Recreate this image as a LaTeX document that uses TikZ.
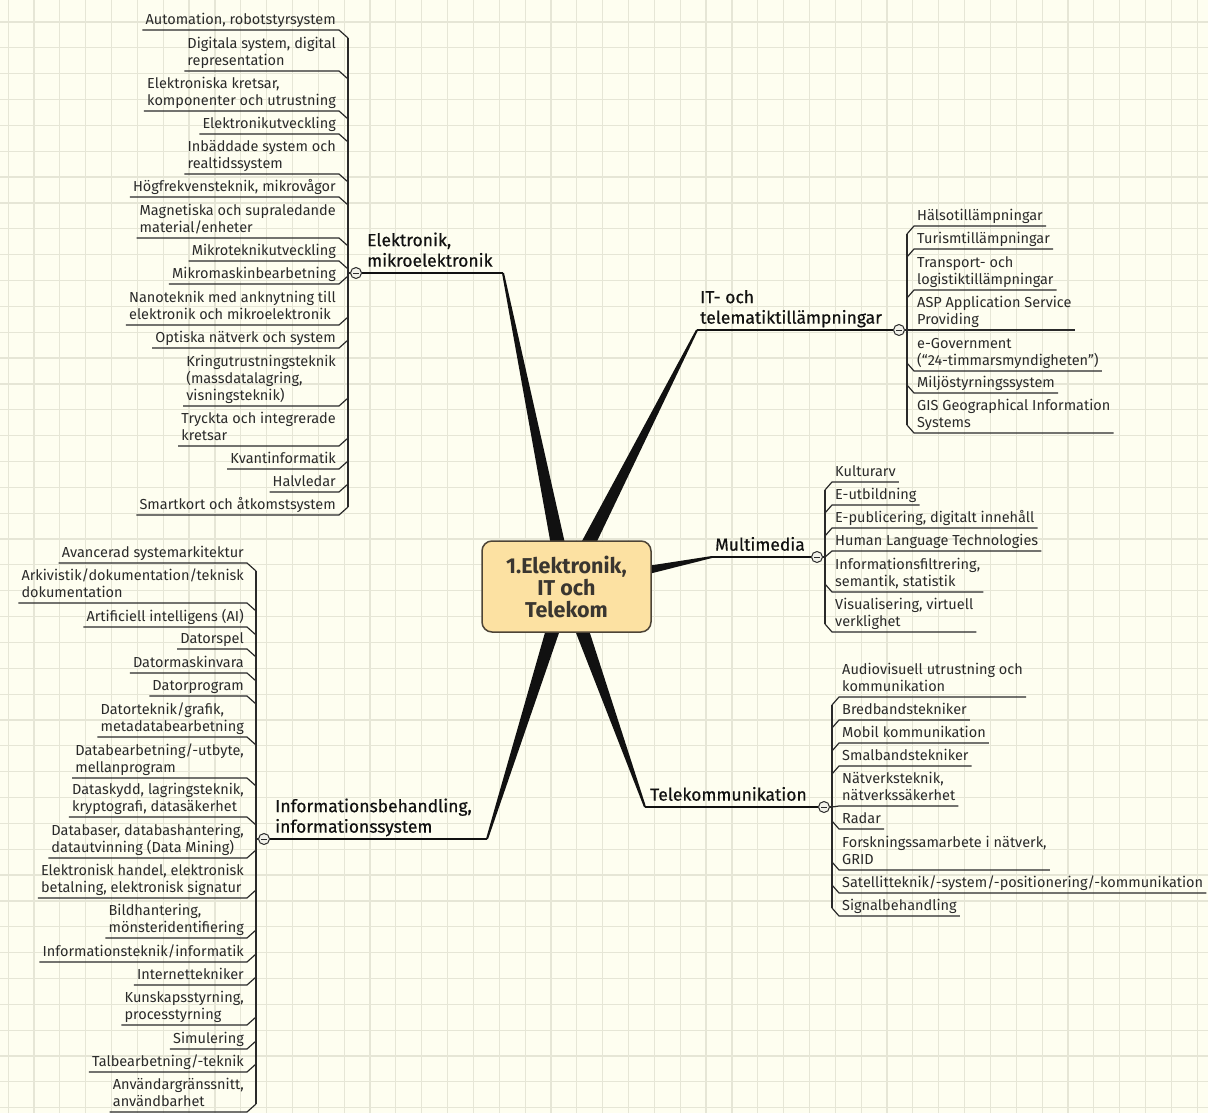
\documentclass[tikz,border=0pt]{standalone}
\usepackage{fontspec}
\setmainfont{Fira Sans}
\newfontfamily\topicfont[FakeBold=0.5]{Fira Sans}
\usetikzlibrary{calc}

\definecolor{paper}{HTML}{FEFEF0}
\definecolor{gridc}{HTML}{E6E6D6}
\definecolor{ink}{HTML}{2A2A2A}
\definecolor{deep}{HTML}{111111}
\definecolor{corefill}{HTML}{FCE1A2}
\definecolor{coreedge}{HTML}{4D4436}
\definecolor{coretext}{HTML}{3A3630}
\definecolor{knobfill}{HTML}{F2F2EA}

\tikzset{
  kid/.style={font=\fontsize{14.5}{17}\selectfont, text=ink, align=left,
    inner xsep=3pt, inner ysep=0.5pt, execute at end node=\strut},
  topic/.style={font=\topicfont\fontsize{17.5}{20.5}\selectfont, text=deep, align=left,
    inner xsep=3pt, inner ysep=0pt, execute at end node=\strut},
  core/.style={draw=coreedge, fill=corefill, line width=1.5pt, rounded corners=10pt,
    minimum width=169pt, minimum height=91pt, align=center, text=coretext,
    font=\fontsize{21.5}{22}\selectfont\bfseries},
  twig/.style={draw=ink, line width=1.2pt, line join=round},
  stem/.style={draw=deep, line width=1.5pt},
  knob/.style={circle, draw=ink, fill=knobfill, line width=1pt, minimum size=11pt,
    inner sep=0pt, path picture={
      \draw[ink, line width=1pt] ([xshift=-2.6pt]path picture bounding box.center)
        -- ([xshift=2.6pt]path picture bounding box.center);}},
}

% child on the left of its bracket: name, bracket x, parent y, underline y, text
\newcommand\lkid[5]{%
  \node[kid, anchor=south east] (#1) at (#2-9,#4) {#5};
  \draw[twig] (#1.south west) -- (#1.south east) -- (#2,{#4+min(8,max(-8,#3-#4))});
}
% child on the right of its bracket
\newcommand\rkid[5]{%
  \node[kid, anchor=south west] (#1) at (#2+7,#4) {#5};
  \draw[twig] (#2,{#4+min(8,max(-8,#3-#4))}) -- (#1.south west) -- (#1.south east);
}
% tapered main branch from the centre to a topic end point
\newcommand\limb[1]{%
  \fill[deep] ($(ctr)!8pt!90:(#1)$) -- ($(#1)!1pt!-90:(ctr)$)
    -- ($(#1)!1pt!90:(ctr)$) -- ($(ctr)!8pt!-90:(#1)$) -- cycle;
}

\begin{document}
\begin{tikzpicture}[x=1pt, y=-1pt]
\useasboundingbox (0,0) rectangle (1208,1113);
\fill[paper] (0,0) rectangle (1208,1113);

% grid paper
\foreach \i in {0,...,46} {\draw[gridc, line width=1.2pt] (8.1+\i*25.85,0) -- ++(0,1113);}
\foreach \j in {0,...,42} {\draw[gridc, line width=1.2pt] (0,22+\j*25.85) -- ++(1208,0);}

% centre and branch ends
\coordinate (ctr) at (566.5,586.5);
\coordinate (Eend) at (503,273);
\coordinate (Iend) at (697,330);
\coordinate (Mend) at (712,557);
\coordinate (Tend) at (645,807);
\coordinate (Nend) at (487,839);

\limb{Eend}
\limb{Iend}
\limb{Mend}
\limb{Tend}
\limb{Nend}

\node[core] (core) at (ctr) {1.Elektronik,\\IT och\\Telekom};

% ---------- Elektronik, mikroelektronik ----------
\node[topic, anchor=south west] (E) at (364,273) {Elektronik,\\mikroelektronik};
\lkid{e1}{348}{273}{30}{Automation, robotstyrsystem}
\lkid{e2}{348}{273}{71}{Digitala system, digital\\representation}
\lkid{e3}{348}{273}{111}{Elektroniska kretsar,\\komponenter och utrustning}
\lkid{e4}{348}{273}{134}{Elektronikutveckling}
\lkid{e5}{348}{273}{174}{Inbäddade system och\\realtidssystem}
\lkid{e6}{348}{273}{197}{Högfrekvensteknik, mikrovågor}
\lkid{e7}{348}{273}{238}{Magnetiska och supraledande\\material/enheter}
\lkid{e8}{348}{273}{261}{Mikroteknikutveckling}
\lkid{e9}{348}{273}{284}{Mikromaskinbearbetning}
\lkid{e10}{348}{273}{325}{Nanoteknik med anknytning till\\elektronik och mikroelektronik}
\lkid{e11}{348}{273}{348}{Optiska nätverk och system}
\lkid{e12}{348}{273}{406}{Kringutrustningsteknik\\(massdatalagring,\\visningsteknik)}
\lkid{e13}{348}{273}{446}{Tryckta och integrerade\\kretsar}
\lkid{e14}{348}{273}{469}{Kvantinformatik}
\lkid{e15}{348}{273}{492}{Halvledar}
\lkid{e16}{348}{273}{515}{Smartkort och åtkomstsystem}
\draw[twig] ($(e1.south east)+(9,8)$) -- ($(e16.south east)+(9,-8)$);
\node[knob] (Ek) at (356,273) {};
\draw[stem] (Ek.east) -- (Eend);
\draw[twig] (Ek.west) -- (348,273);

% ---------- IT- och telematiktillämpningar ----------
\node[topic, anchor=south west] (I) at (697,330) {IT- och\\telematiktillämpningar};
\rkid{i1}{907}{330}{226}{Hälsotillämpningar}
\rkid{i2}{907}{330}{249}{Turismtillämpningar}
\rkid{i3}{907}{330}{290}{Transport- och\\logistiktillämpningar}
\rkid{i4}{907}{330}{330}{ASP Application Service\\Providing}
\rkid{i5}{907}{330}{371}{e-Government\\(“24-timmarsmyndigheten”)}
\rkid{i6}{907}{330}{393}{Miljöstyrningssystem}
\rkid{i7}{907}{330}{433}{GIS Geographical Information\\Systems}
\draw[twig] ($(i1.south west)+(-7,8)$) -- ($(i7.south west)+(-7,-8)$);
\node[knob] (Ik) at (899,330) {};
\draw[stem] (Iend) -- (Ik.west);
\draw[twig] (Ik.east) -- (907,330);

% ---------- Multimedia ----------
\node[topic, anchor=south west] (M) at (712,557) {Multimedia};
\rkid{m1}{825}{557}{482}{Kulturarv}
\rkid{m2}{825}{557}{505}{E-utbildning}
\rkid{m3}{825}{557}{528}{E-publicering, digitalt innehåll}
\rkid{m4}{825}{557}{551}{Human Language Technologies}
\rkid{m5}{825}{557}{592}{Informationsfiltrering,\\semantik, statistik}
\rkid{m6}{825}{557}{632}{Visualisering, virtuell\\verklighet}
\draw[twig] ($(m1.south west)+(-7,8)$) -- ($(m6.south west)+(-7,-8)$);
\node[knob] (Mk) at (817,557) {};
\draw[stem] (Mend) -- (Mk.west);
\draw[twig] (Mk.east) -- (825,557);

% ---------- Telekommunikation ----------
\node[topic, anchor=south west] (T) at (647,807) {Telekommunikation};
\rkid{t1}{832}{807}{697}{Audiovisuell utrustning och\\kommunikation}
\rkid{t2}{832}{807}{720}{Bredbandstekniker}
\rkid{t3}{832}{807}{743}{Mobil kommunikation}
\rkid{t4}{832}{807}{766}{Smalbandstekniker}
\rkid{t5}{832}{807}{806}{Nätverksteknik,\\nätverkssäkerhet}
\rkid{t6}{832}{807}{829}{Radar}
\rkid{t7}{832}{807}{870}{Forskningssamarbete i nätverk,\\GRID}
\rkid{t8}{832}{807}{893}{Satellitteknik/-system/-positionering/-kommunikation}
\rkid{t9}{832}{807}{916}{Signalbehandling}
\draw[twig] ($(t1.south west)+(-7,8)$) -- ($(t9.south west)+(-7,-8)$);
\node[knob] (Tk) at (824,807) {};
\draw[stem] (Tend) -- (Tk.west);
\draw[twig] (Tk.east) -- (832,807);

% ---------- Informationsbehandling, informationssystem ----------
\node[topic, anchor=south west] (N) at (272,839) {Informationsbehandling,\\informationssystem};
\lkid{n1}{256}{839}{563}{Avancerad systemarkitektur}
\lkid{n2}{256}{839}{603}{Arkivistik/dokumentation/teknisk\\dokumentation}
\lkid{n3}{256}{839}{627}{Artificiell intelligens (AI)}
\lkid{n4}{256}{839}{649}{Datorspel}
\lkid{n5}{256}{839}{673}{Datormaskinvara}
\lkid{n6}{256}{839}{696}{Datorprogram}
\lkid{n7}{256}{839}{737}{Datorteknik/grafik,\\metadatabearbetning}
\lkid{n8}{256}{839}{778}{Databearbetning/-utbyte,\\mellanprogram}
\lkid{n9}{256}{839}{817}{Dataskydd, lagringsteknik,\\kryptografi, datasäkerhet}
\lkid{n10}{256}{839}{858}{Databaser, databashantering,\\datautvinning (Data Mining)}
\lkid{n11}{256}{839}{898}{Elektronisk handel, elektronisk\\betalning, elektronisk signatur}
\lkid{n12}{256}{839}{938}{Bildhantering,\\mönsteridentifiering}
\lkid{n13}{256}{839}{962}{Informationsteknik/informatik}
\lkid{n14}{256}{839}{985}{Internettekniker}
\lkid{n15}{256}{839}{1025}{Kunskapsstyrning,\\processtyrning}
\lkid{n16}{256}{839}{1049}{Simulering}
\lkid{n17}{256}{839}{1072}{Talbearbetning/-teknik}
\lkid{n18}{256}{839}{1112}{Användargränssnitt,\\användbarhet}
\draw[twig] ($(n1.south east)+(9,8)$) -- ($(n18.south east)+(9,-8)$);
\node[knob] (Nk) at (264,839) {};
\draw[stem] (Nk.east) -- (Nend);
\draw[twig] (Nk.west) -- (256,839);
\end{tikzpicture}
\end{document}
